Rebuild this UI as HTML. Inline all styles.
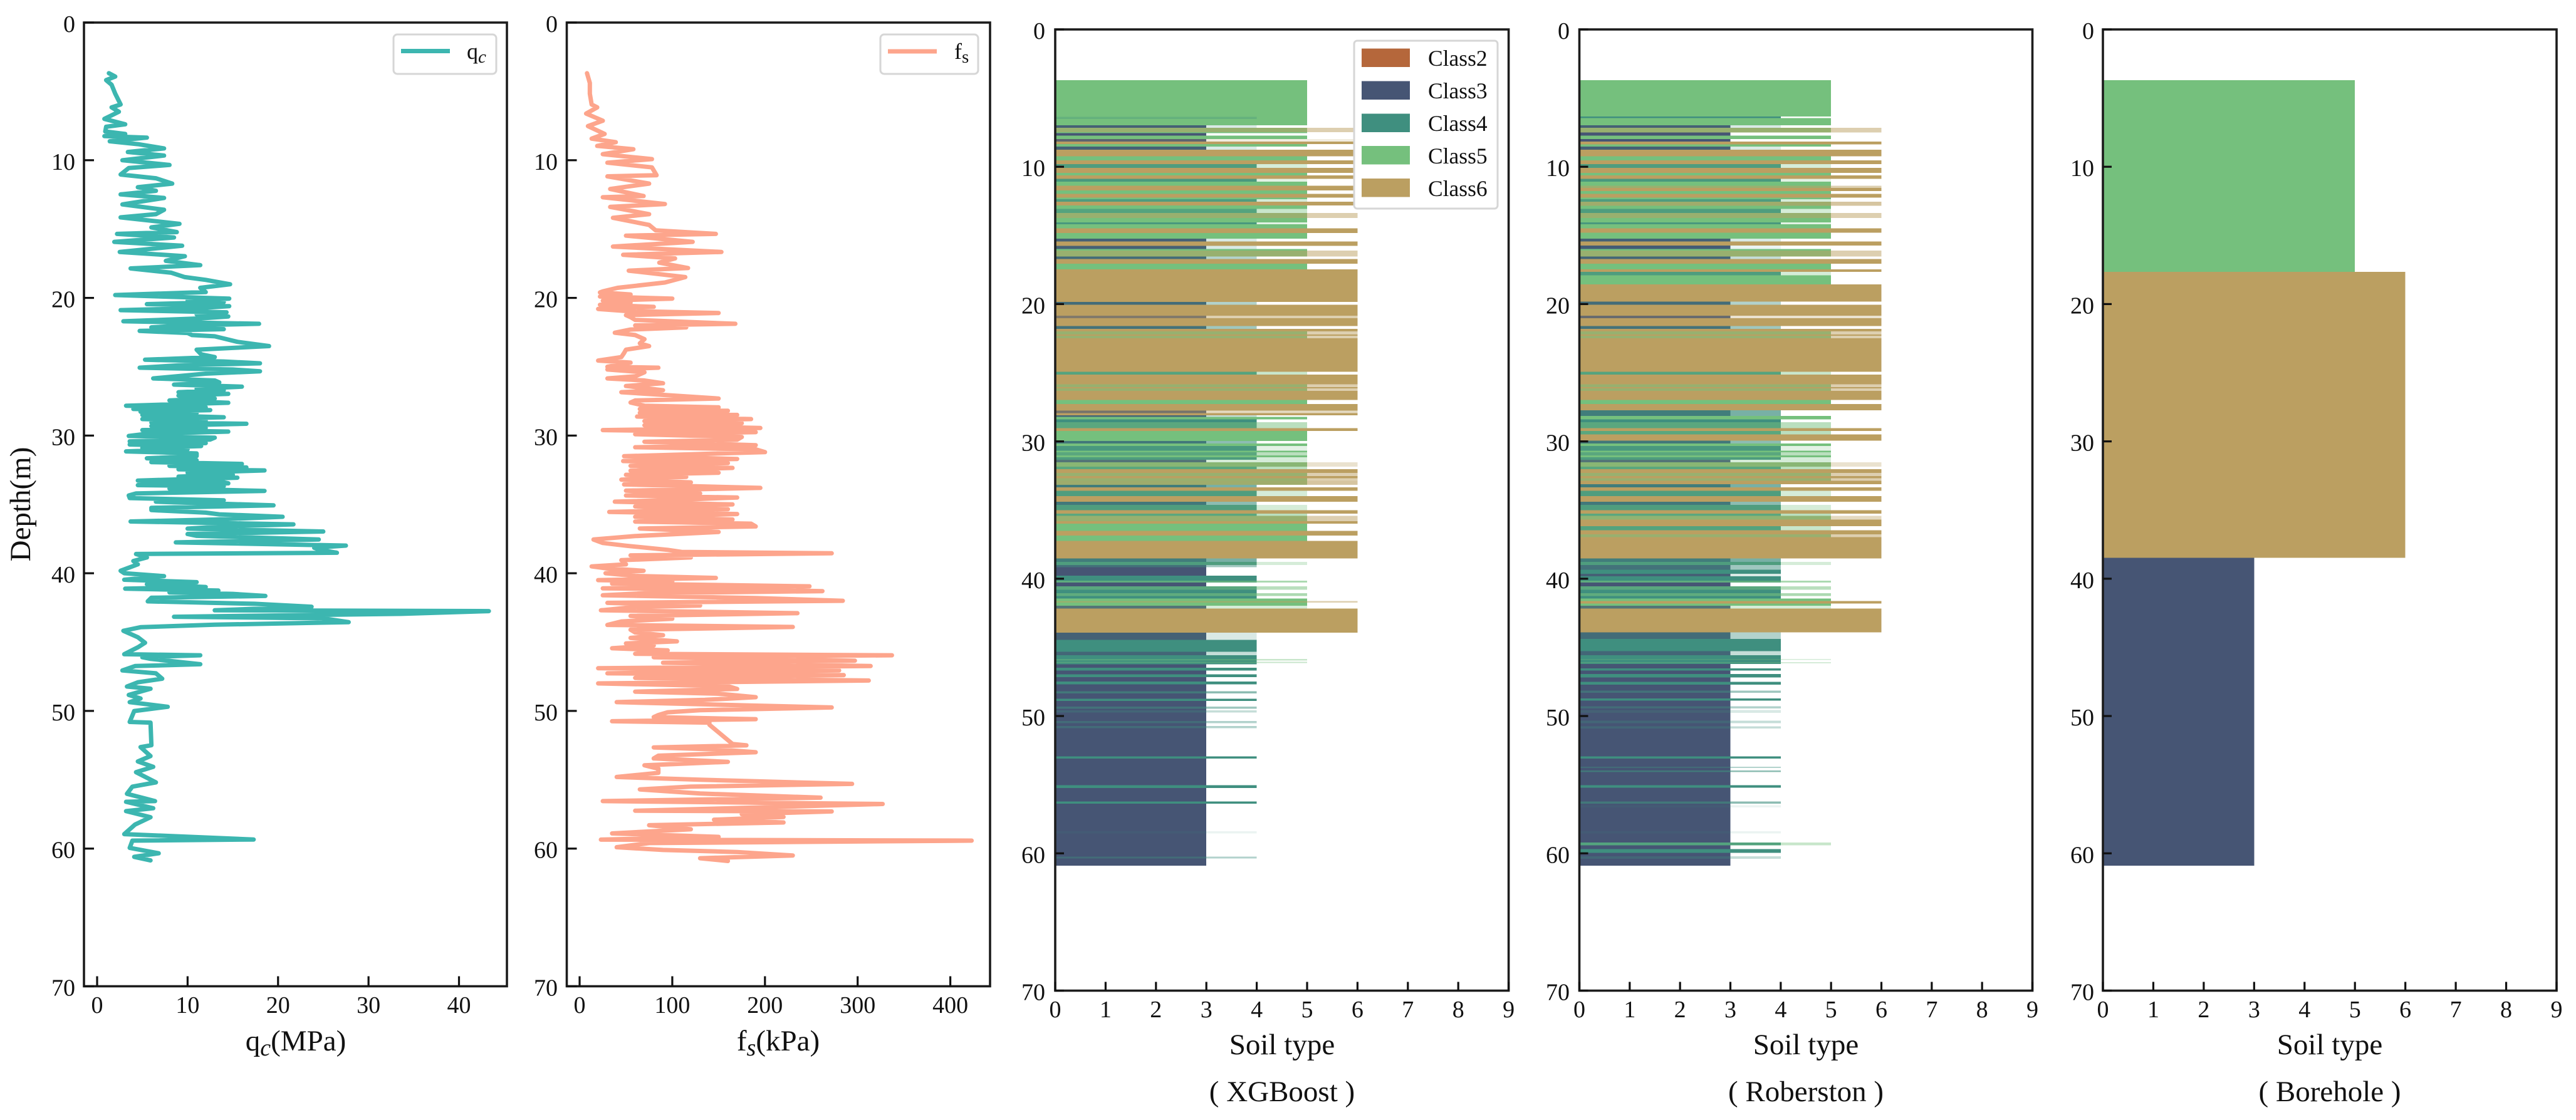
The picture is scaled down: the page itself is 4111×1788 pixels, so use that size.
<!DOCTYPE html>
<html lang="en">
<head>
<meta charset="utf-8">
<title>CPT profiles and soil type classification</title>
<style>
html,body{margin:0;padding:0;background:#fff;}
svg{display:block;}
text{font-family:"Liberation Serif",serif;fill:#111;}
</style>
</head>
<body>
<svg id="chart" xmlns="http://www.w3.org/2000/svg" width="4111" height="1788" viewBox="0 0 4111 1788">
  <rect x="0" y="0" width="4111" height="1788" fill="#ffffff"/>
  <g id="layer-data"></g>
  <g id="layer-axes"></g>

  <text font-size="47" text-anchor="middle" transform="translate(48,805) rotate(-90)">Depth(m)</text>

  <text font-size="47" text-anchor="middle" x="472" y="1677">q<tspan font-style="italic" font-size="38" dy="8">c</tspan><tspan dy="-8">(MPa)</tspan></text>
  <text font-size="47" text-anchor="middle" x="1242" y="1677">f<tspan font-style="italic" font-size="38" dy="8">s</tspan><tspan dy="-8">(kPa)</tspan></text>

  <text font-size="47" text-anchor="middle" x="2046" y="1683">Soil type</text>
  <text font-size="47" text-anchor="middle" x="2046" y="1758">( XGBoost )</text>
  <text font-size="47" text-anchor="middle" x="2882" y="1683">Soil type</text>
  <text font-size="47" text-anchor="middle" x="2882" y="1758">( Roberston )</text>
  <text font-size="47" text-anchor="middle" x="3718" y="1683">Soil type</text>
  <text font-size="47" text-anchor="middle" x="3718" y="1758">( Borehole )</text>

  <g>
    <rect x="628" y="55" width="164" height="63" rx="6" fill="#ffffff" stroke="#d6d6d6" stroke-width="3"/>
    <line x1="640" y1="81.5" x2="718" y2="81.5" stroke="#3cb6b0" stroke-width="7"/>
    <text font-size="36" x="745" y="94">q<tspan font-style="italic" font-size="29" dy="6">c</tspan></text>
  </g>
  <g>
    <rect x="1405" y="55" width="156" height="63" rx="6" fill="#ffffff" stroke="#d6d6d6" stroke-width="3"/>
    <line x1="1417" y1="82" x2="1495" y2="82" stroke="#fda58c" stroke-width="7"/>
    <text font-size="36" x="1523" y="94">f<tspan font-size="29" dy="6">s</tspan></text>
  </g>
  <g>
    <rect x="2161" y="65" width="229" height="268" rx="5" fill="#ffffff" stroke="#d6d6d6" stroke-width="3"/>
    <rect x="2173" y="77.5" width="77" height="29.5" fill="#b5673b"/>
    <text font-size="35.5" x="2279" y="105">Class2</text>
    <rect x="2173" y="129.5" width="77" height="29.5" fill="#465574"/>
    <text font-size="35.5" x="2279" y="157">Class3</text>
    <rect x="2173" y="181.5" width="77" height="29.5" fill="#3f8f7f"/>
    <text font-size="35.5" x="2279" y="209">Class4</text>
    <rect x="2173" y="233" width="77" height="29.5" fill="#75c07d"/>
    <text font-size="35.5" x="2279" y="261">Class5</text>
    <rect x="2173" y="285" width="77" height="29.5" fill="#bb9f61"/>
    <text font-size="35.5" x="2279" y="313">Class6</text>
  </g>
</svg>

<script>
// ---------- Shared tick labels ----------
const depthTicks = [0, 10, 20, 30, 40, 50, 60, 70];
const qcTicks = [0, 10, 20, 30, 40];
const fsTicks = [0, 100, 200, 300, 400];
const soilTicks = [0, 1, 2, 3, 4, 5, 6, 7, 8, 9];

// ---------- q_c profile (depth m, MPa) ----------
const qcDepth = [
3.68,3.92,4.18,4.52,5.17,5.95,6.16,6.48,6.74,7.00,
7.39,7.57,7.91,8.09,8.25,8.36,8.62,8.83,9.14,9.40,
9.66,10.00,10.34,10.57,11.04,11.31,11.70,11.96,12.22,12.48,
12.74,13.21,13.60,13.92,14.15,14.62,14.88,15.22,15.35,15.61,
15.93,16.21,16.66,16.97,17.31,17.62,17.86,18.17,18.49,18.69,
19.01,19.27,19.58,19.79,20.05,20.20,20.30,20.45,20.60,20.75,
20.89,21.05,21.20,21.35,21.49,21.70,21.88,22.00,22.14,22.27,
22.40,22.55,22.70,22.79,23.19,23.50,23.76,24.10,24.30,24.49,
24.62,24.75,24.90,25.07,25.20,25.33,25.50,25.85,26.00,26.14,
26.30,26.45,26.60,26.71,26.85,26.97,27.10,27.31,27.45,27.62,
27.83,27.95,28.07,28.15,28.27,28.36,28.50,28.67,28.80,28.93,
29.05,29.14,29.30,29.45,29.60,29.71,29.87,30.03,30.15,30.29,
30.42,30.55,30.65,30.76,30.90,31.00,31.15,31.30,31.49,31.65,
31.80,31.93,32.06,32.20,32.32,32.45,32.53,32.70,32.85,32.98,
33.06,33.27,33.40,33.47,33.60,33.68,33.85,34.02,34.20,34.35,
34.54,34.70,34.80,35.07,35.25,35.41,35.60,35.72,35.90,36.10,
36.24,36.45,36.60,36.76,36.97,37.15,37.28,37.55,37.76,37.99,
38.15,38.28,38.51,38.60,38.85,39.11,39.35,39.82,40.00,40.21,
40.47,40.65,40.80,41.00,41.12,41.26,41.39,41.50,41.65,41.78,
42.04,42.22,42.43,42.69,42.75,42.95,43.16,43.27,43.55,43.74,
43.92,44.18,44.65,45.05,45.38,45.88,45.96,46.10,46.22,46.61,
46.74,47.06,47.27,47.66,47.92,48.23,48.39,48.84,49.10,49.36,
49.70,50.01,50.80,50.85,52.49,52.63,53.28,53.67,54.06,54.45,
55.19,55.50,56.02,56.55,56.60,57.07,57.28,57.72,58.25,58.95,
59.34,59.42,59.95,60.34,60.60,60.86
];
const qcValue = [
1.3,2.0,1.0,1.6,2.0,2.6,1.6,2.4,1.6,0.8,
3.1,1.0,0.9,3.1,0.8,5.5,1.4,4.5,7.4,3.4,
7.4,2.8,8.0,3.5,2.6,6.5,8.3,4.5,6.5,2.6,
7.4,2.8,7.4,6.5,2.6,9.1,6.0,8.8,2.2,8.5,
1.9,9.4,2.5,9.7,7.6,11.4,3.7,8.2,9.7,12.0,
14.7,11.4,12.0,2.0,14.6,10.0,14.0,5.5,14.6,11.0,
2.6,14.3,11.0,14.5,11.5,2.9,17.9,10.0,6.0,14.0,
4.7,10.0,10.5,13.0,15.5,19.0,11.0,11.5,13.0,5.3,
14.0,18.0,9.0,4.7,15.0,18.0,12.0,6.2,13.0,13.5,
8.5,16.0,11.0,14.0,9.0,14.5,9.0,13.0,8.0,14.5,
3.2,12.0,4.0,12.5,4.8,11.0,5.0,14.0,5.0,12.0,
6.0,16.5,6.0,12.0,5.0,14.5,5.5,3.5,13.0,12.5,
3.6,12.0,3.6,11.5,5.0,10.0,3.2,11.0,11.0,5.5,
11.0,6.0,16.0,8.0,16.5,9.0,18.5,10.0,15.0,9.0,
15.5,4.5,14.0,14.5,4.5,14.0,8.0,18.5,4.3,3.5,
3.6,14.0,6.5,19.5,6.0,6.0,12.0,13.5,20.5,13.0,
3.7,21.7,14.0,10.0,25.0,10.0,11.0,24.5,8.7,27.5,
24.0,24.5,26.5,4.3,5.5,4.0,4.5,2.6,3.0,7.4,
3.0,11.0,5.5,12.0,3.1,13.4,8.0,15.0,18.6,6.0,
5.6,17.4,23.7,13.0,43.3,33.5,8.5,24.9,27.8,13.0,
4.8,2.9,4.5,5.3,4.5,3.0,11.4,5.0,5.9,11.4,
4.2,2.8,6.5,7.2,4.5,3.3,5.9,3.5,4.8,3.6,
7.8,4.1,3.6,5.9,6.0,4.8,5.9,4.5,6.2,4.3,
6.5,3.9,3.3,6.4,3.2,6.2,3.2,5.9,4.2,3.0,
17.3,3.9,3.6,6.8,4.1,5.9
];

// ---------- f_s profile (depth m, kPa) ----------
const fsDepth = [
3.68,4.39,5.17,5.95,6.16,6.61,7.13,7.52,8.09,8.43,
8.69,8.96,9.20,9.56,9.92,10.18,10.52,11.09,11.17,11.70,
12.09,12.60,12.69,13.18,13.39,13.92,14.18,14.70,15.09,15.35,
15.48,15.93,16.27,16.66,16.87,17.13,17.44,17.83,18.02,18.49,
18.88,19.27,19.53,19.60,19.75,19.90,20.05,20.20,20.35,20.50,
20.65,20.80,20.95,21.10,21.25,21.40,21.60,21.88,22.00,22.14,
22.30,22.53,22.70,23.00,23.30,23.50,23.76,24.00,24.30,24.55,
24.70,25.00,25.07,25.20,25.40,25.70,25.85,26.00,26.20,26.40,
26.71,26.85,27.31,27.45,27.60,27.83,27.95,28.07,28.20,28.35,
28.50,28.62,28.80,28.95,29.10,29.25,29.45,29.60,29.75,29.90,
30.10,30.30,30.45,30.70,30.85,31.00,31.20,31.50,31.70,31.85,
32.00,32.20,32.35,32.55,32.70,32.85,33.00,33.20,33.40,33.55,
33.80,34.00,34.20,34.35,34.50,34.70,34.80,35.00,35.15,35.35,
35.55,35.70,35.90,36.10,36.25,36.40,36.60,36.75,37.00,37.30,
37.55,37.80,38.00,38.30,38.45,38.55,38.70,38.85,39.05,39.35,
39.50,39.65,39.82,40.00,40.20,40.34,40.50,40.60,40.75,40.95,
41.10,41.20,41.30,41.45,41.60,41.80,42.00,42.15,42.35,42.45,
42.69,42.90,43.10,43.30,43.50,43.75,43.90,44.10,44.30,44.50,
44.70,44.95,45.10,45.25,45.45,45.60,45.85,45.96,46.10,46.25,
46.35,46.50,46.74,46.90,47.06,47.27,47.40,47.60,47.79,48.00,
48.20,48.40,48.60,48.75,49.00,49.20,49.36,49.60,49.75,49.95,
50.10,50.30,50.45,50.60,50.75,50.85,51.00,52.40,52.50,52.65,
52.80,53.00,53.25,53.45,53.70,53.95,54.20,54.50,54.80,55.00,
55.30,55.50,55.70,56.00,56.30,56.55,56.76,57.00,57.25,57.30,
57.50,57.70,57.90,58.10,58.30,58.60,58.90,59.15,59.35,59.42,
59.60,59.90,60.10,60.25,60.50,60.70,60.90
];
const fsValue = [
8,11,11,13,19,7,25,9,27,13,
39,19,58,25,78,30,78,83,30,75,
33,69,25,92,33,75,36,75,82,147,
50,122,36,153,47,103,86,117,53,114,
92,41,25,22,55,22,100,25,55,22,
80,20,50,150,50,55,60,168,60,115,
55,38,60,70,65,75,50,48,45,20,
55,30,85,30,70,60,30,70,90,50,
90,45,150,60,55,70,150,65,160,65,
170,62,185,70,175,70,195,25,190,60,
175,170,70,190,60,190,200,48,170,47,
160,55,165,55,150,50,115,45,120,48,
195,50,130,50,170,90,38,165,60,160,
32,170,60,165,60,185,190,65,150,60,
15,25,50,95,110,272,55,120,45,50,
13,30,69,28,60,147,20,100,35,248,
25,190,262,70,25,190,284,30,130,60,
23,235,55,100,45,30,230,55,60,90,
55,105,50,80,35,95,60,337,80,200,
297,90,314,20,280,30,285,60,312,20,
160,170,60,150,190,135,40,180,272,130,
95,85,80,190,35,140,140,165,180,80,
150,190,85,80,160,70,85,85,40,130,
294,120,65,130,260,25,327,200,60,272,
175,220,145,220,75,120,35,150,23,423,
75,40,90,170,230,130,160
];

// ---------- XGBoost soil classes: layer tops (m), class, tint (class + share of a blended sub-pixel layer) ----------
const xgbTop = [
3.70,6.37,6.52,6.98,7.16,7.48,7.56,7.74,7.99,8.17,
8.35,8.53,8.75,9.23,9.54,9.81,10.08,10.45,10.63,10.88,
11.09,11.39,11.73,11.97,12.24,12.37,12.55,12.82,13.07,13.37,
13.73,14.04,14.19,14.49,14.83,15.23,15.44,15.77,15.99,16.11,
16.53,16.72,17.05,17.48,19.85,20.06,20.85,21.03,21.61,21.80,
21.98,22.22,22.31,22.49,24.93,25.14,25.84,26.05,26.14,26.33,
26.99,27.27,27.76,27.94,28.09,28.21,28.39,28.61,29.03,29.25,
29.98,30.16,30.34,30.68,30.80,31.01,31.16,31.35,31.53,31.83,
32.02,32.29,32.53,32.68,32.87,33.17,33.35,33.60,33.99,34.39,
34.63,35.00,35.27,35.42,35.82,36.00,36.52,36.85,37.25,38.52,
38.77,39.01,39.17,39.77,40.14,40.29,40.56,40.81,41.05,41.26,
41.45,41.63,41.75,41.96,42.17,43.92,44.45,45.31,45.57,45.85,
45.95,46.05,46.15,46.23,
46.49,46.70,46.96,47.17,47.48,47.69,48.19,48.35,48.74,48.90,
49.32,49.47,49.58,49.74,50.36,50.52,50.73,50.89,52.93,53.09,
55.03,55.24,56.23,56.39,58.38,58.54,60.24,60.37,60.90
];
const xgbClass = [
5,5,5,3,5,5,3,5,3,6,
5,3,6,5,6,4,6,5,6,4,
5,6,5,6,5,4,6,5,4,5,
5,4,5,6,5,3,6,3,5,5,
3,6,5,6,3,6,3,6,3,6,
5,6,5,6,4,6,5,6,5,6,
5,6,3,6,3,5,4,4,6,5,
3,5,4,5,4,5,4,3,5,4,
6,5,6,5,5,3,6,4,6,3,
4,6,4,5,6,5,6,5,6,3,
4,3,3,4,4,3,4,4,4,4,
5,5,5,3,6,3,4,3,4,4,
4,4,4,3,
4,3,4,3,4,3,3,3,4,3,
3,3,3,3,3,3,3,3,4,3,
4,3,4,3,3,3,3,3,0
];
const xgbTint = [
0,4.3,0,4.2,6.5,0,0,0,6.2,0,
0,4.2,0,0,0,5.3,0,0,0,5.2,
0,0,0,0,0,5.3,0,0,5.4,6.5,
0,5.2,0,0,0,4.2,0,4.2,0,6.5,
4.4,0,0,0,4.4,0,6.5,0,4.5,0,
6.5,0,6.5,0,5.4,0,6.5,0,6.5,0,
0,0,6.4,0,4.3,0,0,5.5,0,0,
4.6,0,5.2,0,5.5,0,5.3,5.3,6.3,5.5,
0,6.5,0,6.5,6.6,4.7,0,5.3,0,4.6,
5.3,0,5.5,6.5,0,0,0,0,0,4.7,
5.3,4.5,0,0,5.6,0,5.5,0,5.6,0,
0,6.5,0,5.3,0,4.2,0,4.3,0,5.4,
0,5.4,0,0,
0,0,0,0,0,0,4.6,0,0,0,
4.5,0,4.3,0,4.4,0,4.4,0,0,0,
0,0,0,0,4.1,0,4.4,0,0
];

// ---------- Roberston soil classes ----------
const robTop = [
3.70,6.34,6.46,6.98,7.16,7.50,7.74,7.99,8.17,8.38,
8.53,8.75,9.23,9.54,9.81,10.08,10.45,10.63,10.88,11.09,
11.39,11.54,11.76,11.97,12.24,12.37,12.55,12.85,13.07,13.37,
13.73,14.04,14.19,14.49,14.80,15.23,15.44,15.74,15.99,16.11,
16.53,16.72,17.05,17.48,17.66,17.90,18.57,19.82,20.06,20.85,
21.03,21.61,21.80,21.98,22.22,22.31,22.49,24.93,25.14,25.84,
26.05,26.14,26.33,26.99,27.27,27.73,28.15,28.39,28.61,29.03,
29.25,29.49,29.95,30.16,30.34,30.68,30.80,31.01,31.16,31.35,
31.53,31.83,32.02,32.29,32.53,32.68,32.87,33.11,33.35,33.60,
33.99,34.39,34.63,35.00,35.27,35.42,35.69,36.18,36.46,36.76,
36.97,38.52,38.77,39.01,39.35,39.65,39.83,40.14,40.29,40.56,
40.81,41.05,41.26,41.45,41.63,41.81,41.96,42.17,43.90,44.39,
45.27,45.58,45.84,45.92,46.07,46.16,46.22,46.52,46.70,46.95,
47.19,47.50,47.71,48.15,48.32,48.73,48.89,49.29,49.44,49.56,
49.78,50.35,50.51,50.75,50.90,52.94,53.09,53.70,53.79,53.97,
54.07,55.04,55.22,56.23,56.38,56.50,56.65,58.39,58.54,59.22,
59.42,59.69,59.97,60.21,60.39,60.90
];
const robClass = [
5,4,5,3,5,3,5,3,6,5,
3,6,5,6,4,6,5,6,4,5,
5,6,5,6,5,4,5,5,4,5,
5,4,5,6,5,3,6,3,5,5,
3,6,5,6,4,5,6,3,6,3,
6,3,6,5,6,5,6,4,6,5,
6,5,6,5,6,3,5,4,4,6,
4,6,3,5,4,5,4,5,4,3,
5,4,6,5,6,5,6,3,6,4,
6,3,4,6,4,5,6,4,6,5,
6,3,4,3,4,3,4,4,3,4,
4,4,4,5,6,5,3,6,3,4,
3,4,4,4,4,4,3,4,3,4,
3,4,3,3,3,4,3,3,3,3,
3,3,3,3,3,4,3,3,3,3,
3,4,3,3,3,3,3,3,3,4,
3,4,3,3,3,0
];
const robTint = [
0,0,0,4.2,6.5,0,0,0,0,0,
4.2,0,0,0,5.3,0,0,0,5.2,0,
6.5,0,0,0,0,5.3,6.6,0,5.3,6.5,
0,5.2,0,0,0,4.2,0,4.1,0,6.5,
4.3,0,0,0,5.3,0,0,4.4,0,6.3,
0,4.5,0,6.5,0,6.5,0,5.4,0,6.5,
0,6.5,0,0,0,4.7,0,0,5.5,0,
5.5,0,4.6,0,5.2,0,5.5,0,5.3,5.3,
6.3,5.5,0,6.5,0,6.5,0,4.7,0,5.3,
0,4.6,5.3,0,5.5,6.4,0,5.4,0,6.5,
0,4.7,5.3,4.5,0,4.2,0,5.6,0,5.5,
0,5.6,0,0,0,0,5.3,0,4.4,0,
4.3,0,5.3,0,5.3,0,0,0,0,0,
0,0,0,4.5,0,0,0,4.4,0,4.2,
0,4.3,0,4.3,0,0,0,4.4,0,4.6,
0,0,0,4.6,0,4.1,0,4.1,0,5.4,
0,0,0,4.3,0,0
];

// ---------- Borehole layers ----------
const boreTop = [3.70, 17.66, 38.48, 60.90];
const boreClass = [5, 6, 3, 0];
const boreTint = [0, 0, 0, 0];

const classColors = {2: '#b5673b', 3: '#465574', 4: '#3f8f7f', 5: '#75c07d', 6: '#bb9f61'};
const SVGNS = 'http://www.w3.org/2000/svg';
const dataLayer = document.getElementById('layer-data');
const axesLayer = document.getElementById('layer-axes');

function linearScale(d0, d1, r0, r1) {
  return function (v) { return r0 + (v - d0) * (r1 - r0) / (d1 - d0); };
}

function spawn(tag, parent, attrs) {
  const el = document.createElementNS(SVGNS, tag);
  Object.keys(attrs).forEach(function (k) { el.setAttribute(k, attrs[k]); });
  parent.appendChild(el);
  return el;
}

function drawAxes(box, xScale, yScale, xTicks, tickLen, labelBase, yLabelX) {
  const frame = spawn('rect', axesLayer, {x: box.left, y: box.top, width: box.right - box.left, height: box.bottom - box.top, fill: 'none', stroke: '#1c1c1c', 'stroke-width': 3.6});
  
  
  depthTicks.forEach(function (t) {
    const y = yScale(t);
    const mark = spawn('line', axesLayer, {x1: box.left, x2: box.left + tickLen, y1: y, y2: y, stroke: '#111', 'stroke-width': 3.2});
    
    
    const lab = spawn('text', axesLayer, {x: yLabelX, y: y + 15, 'text-anchor': 'end', 'font-size': 38});
    
    
    lab.textContent = t;
  });
  xTicks.forEach(function (t) {
    const x = xScale(t);
    const mark = spawn('line', axesLayer, {x1: x, x2: x, y1: box.bottom, y2: box.bottom - tickLen, stroke: '#111', 'stroke-width': 3.2});
    
    
    const lab = spawn('text', axesLayer, {x: x, y: labelBase, 'text-anchor': 'middle', 'font-size': 38});
    
    
    lab.textContent = t;
  });
}

function drawCurve(depths, values, xScale, yScale, color, name) {
  const d = depths.map(function (dep, i) {
    return (i ? 'L' : 'M') + xScale(values[i]).toFixed(1) + ' ' + yScale(dep).toFixed(1);
  }).join('');
  const path = spawn('path', dataLayer, {d: d, fill: 'none', stroke: color, 'stroke-width': 7, 'stroke-linejoin': 'round', 'stroke-linecap': 'round'});
  
  
}

function drawBands(tops, classes, tints, xScale, yScale) {
  for (let i = 0; i < tops.length - 1; i++) {
    const y0 = yScale(tops[i]);
    const y1 = yScale(tops[i + 1]);
    const bar = spawn('rect', dataLayer, {x: xScale(0), y: y0, width: xScale(classes[i]) - xScale(0), height: y1 - y0, fill: classColors[classes[i]], 'shape-rendering': 'crispEdges'});
    
    
    if (tints[i] > 0) {
      const tintClass = Math.floor(tints[i]);
      const tintShare = tints[i] - tintClass;
      const tint = spawn('rect', dataLayer, {x: xScale(0), y: y0, width: xScale(tintClass) - xScale(0), height: y1 - y0, fill: classColors[tintClass], 'fill-opacity': tintShare.toFixed(2), 'shape-rendering': 'crispEdges'});
      
      
    }
  }
}

// q_c panel
const qcBox = {left: 134, right: 809, top: 36, bottom: 1574.5};
const qcX = linearScale(0, 40, 155, 732.5);
const qcY = linearScale(0, 70, qcBox.top, qcBox.bottom);
drawCurve(qcDepth, qcValue, qcX, qcY, '#3cb6b0', 'qc-profile-line');
drawAxes(qcBox, qcX, qcY, qcTicks, 16, 1617, 120);

// f_s panel
const fsBox = {left: 904.5, right: 1580, top: 36, bottom: 1574.5};
const fsX = linearScale(0, 400, 925, 1516.6);
const fsY = linearScale(0, 70, fsBox.top, fsBox.bottom);
drawCurve(fsDepth, fsValue, fsX, fsY, '#fda58c', 'fs-profile-line');
drawAxes(fsBox, fsX, fsY, fsTicks, 16, 1617, 890);

// XGBoost panel
const xgbBox = {left: 1684, right: 2407.6, top: 47, bottom: 1581.5};
const xgbX = linearScale(0, 9, xgbBox.left, xgbBox.right);
const xgbY = linearScale(0, 70, xgbBox.top, xgbBox.bottom);
drawBands(xgbTop, xgbClass, xgbTint, xgbX, xgbY);
drawAxes(xgbBox, xgbX, xgbY, soilTicks, 14, 1624, 1668);

// Roberston panel
const robBox = {left: 2520.5, right: 3243.5, top: 47, bottom: 1581.5};
const robX = linearScale(0, 9, robBox.left, robBox.right);
const robY = linearScale(0, 70, robBox.top, robBox.bottom);
drawBands(robTop, robClass, robTint, robX, robY);
drawAxes(robBox, robX, robY, soilTicks, 14, 1624, 2505);

// Borehole panel
const boreBox = {left: 3356, right: 4080, top: 47, bottom: 1581.5};
const boreX = linearScale(0, 9, boreBox.left, boreBox.right);
const boreY = linearScale(0, 70, boreBox.top, boreBox.bottom);
drawBands(boreTop, boreClass, boreTint, boreX, boreY);
drawAxes(boreBox, boreX, boreY, soilTicks, 14, 1624, 3342);
</script>
</body>
</html>
